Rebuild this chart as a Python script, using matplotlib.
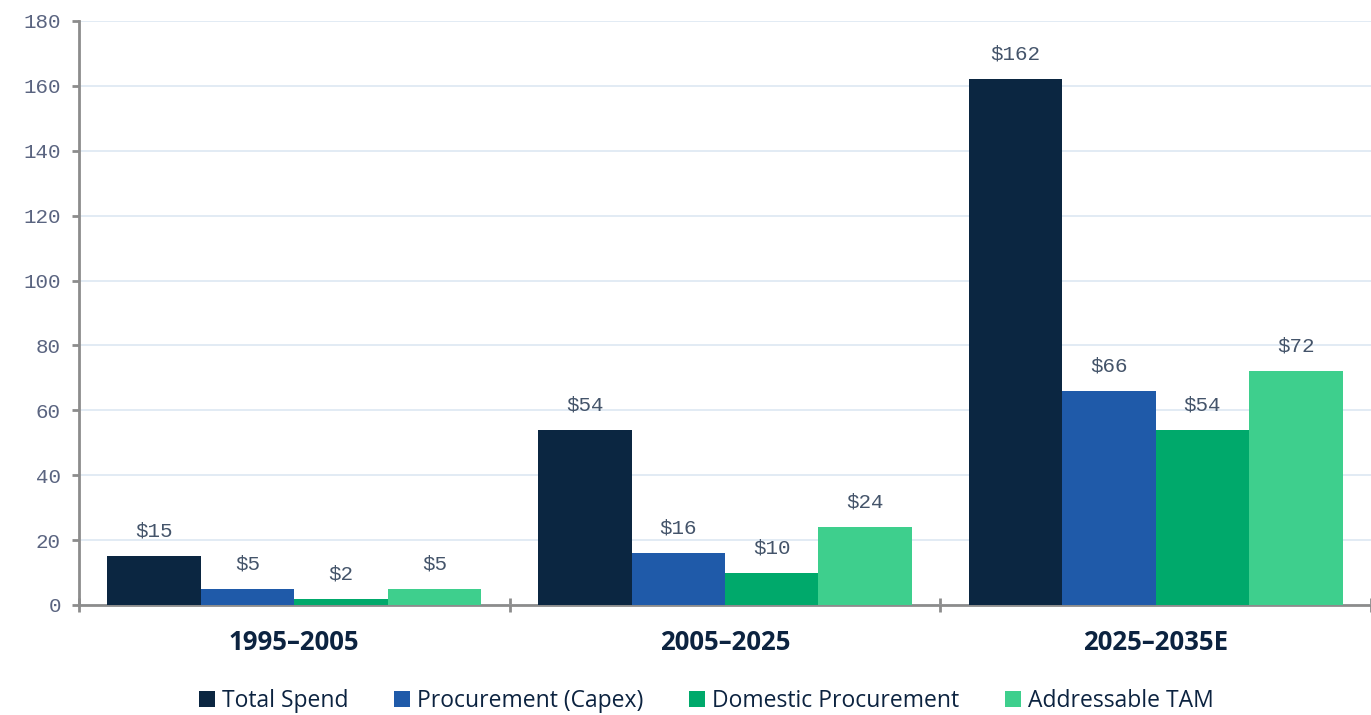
import numpy as np
import matplotlib.pyplot as plt
from matplotlib.ticker import FixedLocator

# --- Data ---
periods = ['1995\u20132005', '2005\u20132025', '2025\u20132035E']
series_names = ['Total Spend', 'Procurement (Capex)', 'Domestic Procurement', 'Addressable TAM']
total_spend = [15, 54, 162]
procurement_capex = [5, 16, 66]
domestic_procurement = [2, 10, 54]
addressable_tam = [5, 24, 72]
y_ticks = [0, 20, 40, 60, 80, 100, 120, 140, 160, 180]

colors = ['#0b2641', '#1f5aa9', '#00a96b', '#3ecf8d']
label_color = '#44546a'
tick_color = '#5a6480'
navy = '#0c2340'

# --- Figure ---
fig = plt.figure(figsize=(13.71, 7.15), dpi=100)
ax = fig.add_axes([79 / 1371, 1 - 605 / 715, 1 - 79 / 1371, (605 - 21) / 715])

x = np.arange(len(periods))
bar_w = 0.217
values = [total_spend, procurement_capex, domestic_procurement, addressable_tam]

for i, (name, vals) in enumerate(zip(series_names, values)):
    offs = (i - 1.5) * bar_w
    bars = ax.bar(x + offs, vals, width=bar_w, color=colors[i], label=name, zorder=3)
    for b, v in zip(bars, vals):
        ax.annotate(f'${v}', (b.get_x() + b.get_width() / 2, v),
                    xytext=(0, 18), textcoords='offset points',
                    ha='center', va='center', fontsize=15,
                    family='Liberation Mono', color=label_color)

# --- Axes styling ---
ax.set_xlim(-0.5, 2.5)
ax.set_ylim(0, 180)
ax.yaxis.set_major_locator(FixedLocator(y_ticks))
ax.grid(axis='y', color='#dde7f2', linewidth=1.2, zorder=0)
ax.set_axisbelow(True)

for s in ['top', 'right']:
    ax.spines[s].set_visible(False)
for s in ['left', 'bottom']:
    ax.spines[s].set_color('#8c8c8c')
    ax.spines[s].set_linewidth(2)

ax.tick_params(axis='y', length=5, width=2, color='#8c8c8c', pad=8,
               labelsize=15, labelcolor=tick_color)
for t in ax.get_yticklabels():
    t.set_family('Liberation Mono')

# group boundary ticks on x axis, category names as minor labels
ax.xaxis.set_major_locator(FixedLocator([-0.5, 0.5, 1.5, 2.5]))
ax.xaxis.set_major_formatter(plt.NullFormatter())
ax.xaxis.set_minor_locator(FixedLocator(x))
ax.set_xticklabels(periods, minor=True)
ax.tick_params(axis='x', which='major', length=10, width=2, color='#8c8c8c', direction='inout')
ax.tick_params(axis='x', which='minor', length=0, pad=17, labelsize=18.5, labelcolor=navy)
for t in ax.get_xticklabels(minor=True):
    t.set_family('Open Sans')
    t.set_fontweight('bold')

# --- Legend ---
leg = fig.legend(loc='center', bbox_to_anchor=(0.515, 1 - 701 / 715), ncol=4,
                 frameon=False, handlelength=0.7, handleheight=0.7,
                 handletextpad=0.3, columnspacing=2.0,
                 prop={'family': 'Open Sans', 'size': 16.5})
for t in leg.get_texts():
    t.set_color(navy)

fig.savefig('out.png', dpi=100)
